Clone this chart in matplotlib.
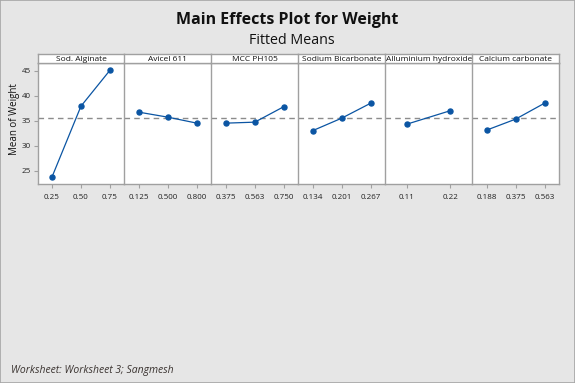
import matplotlib
matplotlib.use("Agg")
import matplotlib.pyplot as plt
import numpy as np

plt.rcParams['font.family'] = ['Open Sans', 'DejaVu Sans']

factors = ["Sod. Alginate", "Avicel 611", "MCC PH105", "Sodium Bicarbonate",
           "Alluminium hydroxide", "Calcium carbonate"]
levels = [
    ["0.25", "0.50", "0.75"],
    ["0.125", "0.500", "0.800"],
    ["0.375", "0.563", "0.750"],
    ["0.134", "0.201", "0.267"],
    ["0.11", "0.22"],
    ["0.188", "0.375", "0.563"],
]
means = [
    [23.7, 37.9, 45.1],
    [36.7, 35.7, 34.5],
    [34.5, 34.7, 37.8],
    [33.0, 35.5, 38.5],
    [34.3, 37.0],
    [33.1, 35.3, 38.5],
]
grand_mean = 35.5
yticks = [25, 30, 35, 40, 45]

W, H = 575, 383
fig = plt.figure(figsize=(W / 100, H / 100), dpi=100, facecolor="#E6E6E6")
fig.patches.append(plt.Rectangle((0, 0), 1, 1, transform=fig.transFigure,
                                 fill=False, edgecolor="#A6A6A6", lw=1.2))

def box(x0, y0, x1, y1):
    return [x0 / W, 1 - y1 / H, (x1 - x0) / W, (y1 - y0) / H]

left, right = 37.5, 559.0
strip_top, strip_bot, plot_bot = 54.3, 63.3, 184.0
pw = (right - left) / 6
spine_c = "#A0A0A0"
line_c = "#0B55A3"

for i, (name, lv, mv) in enumerate(zip(factors, levels, means)):
    x0 = left + i * pw
    x1 = x0 + pw
    ax = fig.add_axes(box(x0, strip_bot, x1, plot_bot))
    ax.set_facecolor("white")
    xs = np.arange(len(lv))
    ax.axhline(grand_mean, color="#8C8C8C", lw=1.0, ls=(0, (4, 3)), zorder=1)
    ax.plot(xs, mv, color=line_c, lw=0.9, marker="o", ms=3.6,
            markerfacecolor=line_c, markeredgecolor=line_c, zorder=3)
    ax.set_xlim(-0.5, len(lv) - 0.5)
    ax.set_ylim(22.3, 46.5)
    ax.set_xticks(xs)
    ax.set_xticklabels(lv, fontsize=5.8, color="#222222")
    ax.tick_params(axis="x", length=3, color=spine_c, pad=4)
    if i == 0:
        ax.set_yticks(yticks)
        ax.set_yticklabels([str(t) for t in yticks], fontsize=5.8, color="#222222")
        ax.tick_params(axis="y", length=3, color=spine_c, pad=2)
    else:
        ax.set_yticks([])
    for s in ax.spines.values():
        s.set_color(spine_c)
        s.set_linewidth(1.0)
    if i < 5:
        ax.spines["right"].set_visible(False)
    # strip
    sax = fig.add_axes(box(x0, strip_top, x1, strip_bot))
    sax.set_facecolor("white")
    sax.set_xticks([]); sax.set_yticks([])
    for s in sax.spines.values():
        s.set_color(spine_c)
        s.set_linewidth(1.0)
    if i < 5:
        sax.spines["right"].set_visible(False)
    sax.text(0.5, 0.45, name, ha="center", va="center", fontsize=6.0,
             color="#111111", transform=sax.transAxes)

fig.text(287 / W, 1 - 20 / H, "Main Effects Plot for Weight", ha="center",
         va="center", fontsize=11.5, fontweight="bold", color="#111111")
fig.text(292 / W, 1 - 41 / H, "Fitted Means", ha="center", va="center",
         fontsize=10.3, color="#111111")
fig.text(14 / W, 1 - 119 / H, "Mean of Weight", rotation=90, ha="center",
         va="center", fontsize=7, color="#111111")
fig.text(11 / W, 1 - 371 / H, "Worksheet: Worksheet 3; Sangmesh", ha="left",
         va="center", fontsize=7.5, style="italic", color="#3A3330")

fig.savefig("out.png", dpi=100, facecolor=fig.get_facecolor())
